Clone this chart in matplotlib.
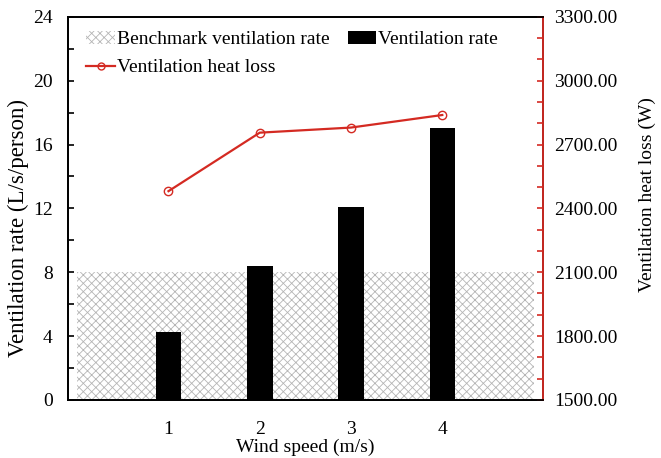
import matplotlib
matplotlib.use("Agg")
import matplotlib.pyplot as plt
from matplotlib.patches import Patch
from matplotlib.lines import Line2D
from matplotlib.ticker import MultipleLocator, FormatStrFormatter

# data
wind_speed = [1, 2, 3, 4]
vent_rate = [4.27, 8.36, 12.09, 17.02]
heat_loss = [2481, 2756, 2780, 2839]
benchmark = 8

plt.rcParams['font.family'] = ['Liberation Serif', 'DejaVu Serif']
plt.rcParams['font.size'] = 14
plt.rcParams['hatch.linewidth'] = 0.6

red = '#d42a22'

fig = plt.figure(figsize=(6.61, 4.58), dpi=100)
ax = fig.add_axes([0.103, 0.127, 0.718, 0.836])
ax2 = ax.twinx()

# benchmark band spans the full category range
ax.bar(2.5, benchmark, width=5, facecolor='white', edgecolor='#b5b5b5',
       hatch='xxxx', linewidth=0, zorder=1)
ax.bar(wind_speed, vent_rate, width=0.28, color='black', zorder=2)

ax2.plot(wind_speed, heat_loss, color=red, lw=1.6, marker='o', ms=6,
         mfc='none', mec=red, mew=1.0)

ax.set_xlim(-0.1, 5.1)
ax.set_ylim(0, 24)
ax.yaxis.set_major_locator(MultipleLocator(4))
ax.yaxis.set_minor_locator(MultipleLocator(2))
ax.set_xticks(wind_speed)
ax.tick_params(axis='x', length=0, pad=15)
ax.tick_params(axis='y', which='both', direction='in', length=4, width=1.2)
ax.tick_params(axis='y', pad=11)
ax.set_xlabel('Wind speed (m/s)', labelpad=1)
ax.set_ylabel('Ventilation rate (L/s/person)', fontsize=16.5)
ax.yaxis.set_label_coords(-0.082, 0.45)

ax2.set_ylim(1500, 3300)
ax2.yaxis.set_major_locator(MultipleLocator(300))
ax2.yaxis.set_minor_locator(MultipleLocator(100))
ax2.yaxis.set_major_formatter(FormatStrFormatter('%.2f'))
ax2.tick_params(axis='y', which='both', direction='in', length=4, width=1.2,
                color=red, pad=8)
ax2.set_ylabel('Ventilation heat loss (W)')
ax2.yaxis.set_label_coords(1.202, 0.535)

for a in (ax, ax2):
    for s in a.spines.values():
        s.set_linewidth(1.3)
ax2.spines['right'].set_color(red)

handles = [
    Patch(facecolor='white', edgecolor='#b5b5b5', hatch='xxxx', linewidth=0),
    Line2D([], [], color=red, lw=1.6, marker='o', ms=5, mfc='none', mec=red),
    Patch(facecolor='black'),
]
labels = ['Benchmark ventilation rate', 'Ventilation heat loss', 'Ventilation rate']
ax2.legend(handles, labels, ncol=2, loc='upper left', frameon=False,
           bbox_to_anchor=(0.01, 1.0), handlelength=1.45, handletextpad=0.1,
           columnspacing=0.95, labelspacing=0.55, borderaxespad=0.3,
           fontsize=14)

fig.savefig('out.png', dpi=100)
